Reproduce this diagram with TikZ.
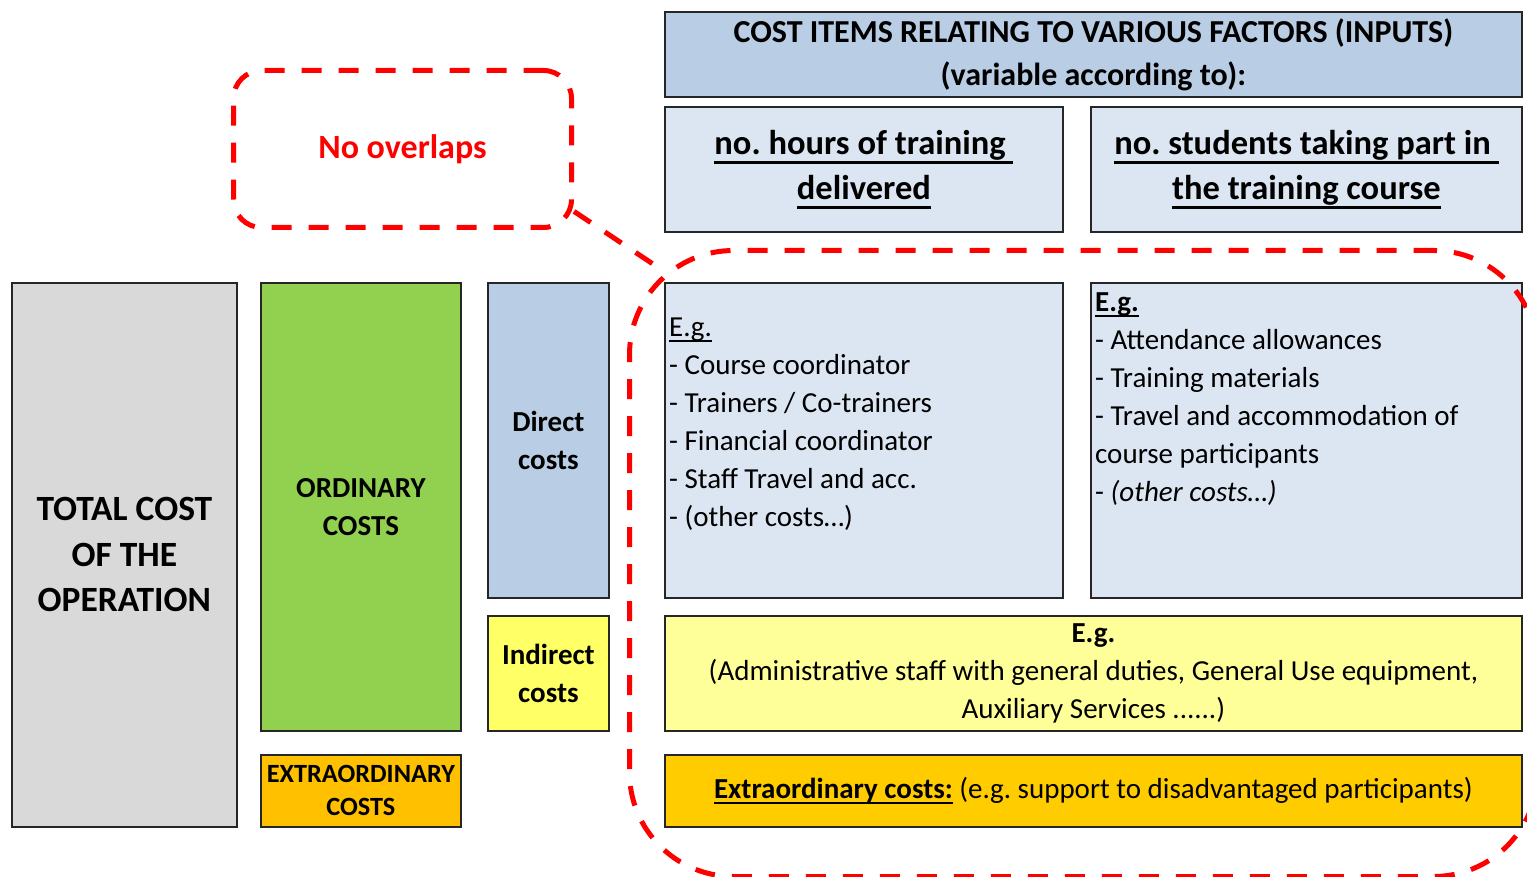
\documentclass[tikz,border=0pt]{standalone}
\usepackage{fontspec}
\setmainfont{Carlito}
\frenchspacing

\definecolor{totalgray}{HTML}{D9D9D9}
\definecolor{ordgreen}{HTML}{92D050}
\definecolor{extraorange}{HTML}{FFC000}
\definecolor{dirblue}{HTML}{B9CDE5}
\definecolor{indyellow}{HTML}{FFFF66}
\definecolor{paleblue}{HTML}{DCE6F2}
\definecolor{paleyellow}{HTML}{FFFF99}
\definecolor{extragold}{HTML}{FFCC00}
\definecolor{frame}{HTML}{262626}

% underline at a fixed distance below the baseline
\newcommand\uln[2][0.2em]{\setbox0=\hbox{#2}\rlap{\rule[-#1]{\wd0}{0.07em}}\box0}

\begin{document}
\begin{tikzpicture}[x=1pt,y=-1pt,
  box/.style={draw=frame, line width=1.8pt, anchor=north west, inner sep=0pt,
    align=center, font=\bfseries\fontsize{29}{38}\selectfont},
  listtext/.style={anchor=west, align=left, inner sep=0pt,
    font=\fontsize{29}{38}\selectfont},
  redline/.style={draw=red, line width=5pt, dash pattern=on 20pt off 17pt}]

\clip (0,0) rectangle (1527,877);

% left-hand breakdown of the total cost
\node[box, fill=totalgray, minimum width=225, minimum height=544,
  font=\bfseries\fontsize{35.5}{45.5}\selectfont] (total) at (11,282)
  {TOTAL COST\\OF THE\\OPERATION};
\node[box, fill=ordgreen, minimum width=200, minimum height=448] (ordinary) at (260,282)
  {ORDINARY\\COSTS};
\node[box, fill=extraorange, minimum width=200, minimum height=72,
  font=\bfseries\fontsize{26.3}{33}\selectfont] (extra) at (260,754)
  {EXTRAORDINARY\\COSTS};
\node[box, fill=dirblue, minimum width=121, minimum height=315] (direct) at (487,282)
  {Direct\\costs};
\node[box, fill=indyellow, minimum width=121, minimum height=115] (indirect) at (487,615)
  {Indirect\\costs};

% cost items by factor
\node[box, fill=dirblue, minimum width=857, minimum height=85,
  font=\bfseries\fontsize{32}{43}\selectfont] (header) at (664,11)
  {COST ITEMS RELATING TO VARIOUS FACTORS (INPUTS)\\(variable according to):};
\node[box, fill=paleblue, minimum width=398, minimum height=125,
  font=\bfseries\fontsize{34.5}{45}\selectfont] (hours) at (664,106)
  {\uln[0.28em]{no. hours of training\ }\\\uln[0.28em]{delivered}};
\node[box, fill=paleblue, minimum width=431, minimum height=125,
  font=\bfseries\fontsize{34.5}{45}\selectfont] (students) at (1090,106)
  {\uln[0.28em]{no. students taking part in\ }\\\uln[0.28em]{the training course}};

\node[box, fill=paleblue, minimum width=398, minimum height=315] (eghours) at (664,282) {};
\node[listtext] (eghourstext) at (669,424)
  {\uln{E.g.}\\- Course coordinator\\- Trainers / Co-trainers\\- Financial coordinator\\- Staff Travel and acc.\\- (other costs…)};
\node[box, fill=paleblue, minimum width=431, minimum height=315] (egstudents) at (1090,282) {};
\node[listtext] (egstudentstext) at (1095,399)
  {\uln{\textbf{E.g.}}\\- Attendance allowances\\- Training materials\\- Travel and accommodation of\\course participants\\- \textit{(other costs…)}};

\node[box, fill=paleyellow, minimum width=857, minimum height=115,
  font=\fontsize{29}{38}\selectfont] (egindirect) at (664,615)
  {\textbf{E.g.}\\(Administrative staff with general duties, General Use equipment,\\Auxiliary Services ......)};
\node[box, fill=extragold, minimum width=857, minimum height=72,
  font=\fontsize{29}{38}\selectfont] (egextra) at (664,754)
  {\uln{\textbf{Extraordinary costs:}}\ (e.g. support to disadvantaged participants)};

% dashed outlines
\node[redline, rounded corners=28, minimum width=338, minimum height=157, anchor=north west,
  text=red, font=\bfseries\fontsize{34}{40}\selectfont] (nooverlaps) at (231,68) {No overlaps};
\node[redline, rounded corners=104, minimum width=908, minimum height=626,
  anchor=north west] (scopebox) at (627,248) {};
\coordinate (arcpt) at (665,272);
\draw[redline] (nooverlaps.-20) -- (arcpt);
\end{tikzpicture}
\end{document}
